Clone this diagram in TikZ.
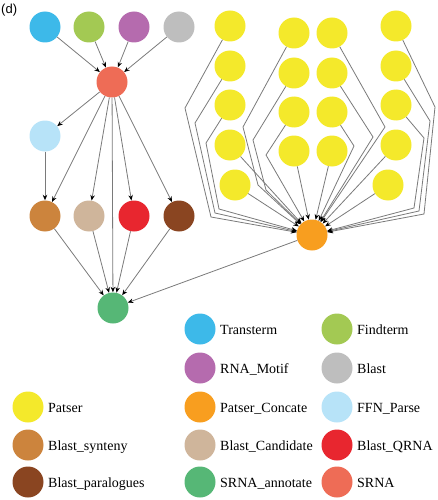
\documentclass[tikz,border=0pt]{standalone}
\usepackage{fontspec}
\setmainfont{Liberation Serif}
\newfontfamily\labfont{Liberation Sans}
\usetikzlibrary{arrows.meta}
\definecolor{cTransterm}{HTML}{3DB9E9}
\definecolor{cFindterm}{HTML}{A3C953}
\definecolor{cMotif}{HTML}{B56BAE}
\definecolor{cBlast}{HTML}{BEBEBE}
\definecolor{cSRNA}{HTML}{EE6C56}
\definecolor{cFFN}{HTML}{B7E3F8}
\definecolor{cSynteny}{HTML}{CC843D}
\definecolor{cCand}{HTML}{CFB59B}
\definecolor{cQRNA}{HTML}{E8262F}
\definecolor{cPara}{HTML}{8A4521}
\definecolor{cAnnot}{HTML}{56B776}
\definecolor{cPatser}{HTML}{F4E92B}
\definecolor{cConcat}{HTML}{F89E1F}
\definecolor{edgegray}{HTML}{7A7A7A}
\tikzset{
  dot/.style={circle, inner sep=0pt, minimum size=31pt, draw=none, fill=#1},
  edge/.style={draw=edgegray, line width=0.8pt, -{Stealth[length=5.5pt,width=4.5pt,black]}},
  legtext/.style={anchor=base west, inner sep=0pt, font=\fontsize{14}{16}\selectfont}
}
\begin{document}
\begin{tikzpicture}[x=1pt,y=-1pt]
\useasboundingbox (0,0) rectangle (438,500);
\node[anchor=west, inner sep=0pt, font=\labfont\fontsize{13}{15}\selectfont] (lab) at (1,10) {(d)};
% left graph
\node[dot=cTransterm] (tt) at (45,27) {};
\node[dot=cFindterm] (ft) at (89,27) {};
\node[dot=cMotif] (rm) at (134,27) {};
\node[dot=cBlast] (bl) at (179,27) {};
\node[dot=cSRNA] (sr) at (112,82) {};
\node[dot=cFFN] (ffn) at (45,136) {};
\node[dot=cSynteny] (syn) at (45,216) {};
\node[dot=cCand] (cand) at (89,216) {};
\node[dot=cQRNA] (qrna) at (134,216) {};
\node[dot=cPara] (para) at (179,216) {};
\node[dot=cAnnot] (ann) at (113,308) {};
% yellow nodes
\node[dot=cPatser] (a1) at (230,26) {};
\node[dot=cPatser] (a2) at (230,66) {};
\node[dot=cPatser] (a3) at (230,105) {};
\node[dot=cPatser] (a4) at (230,145) {};
\node[dot=cPatser] (a5) at (235,185) {};
\node[dot=cPatser] (b1) at (294,33) {};
\node[dot=cPatser] (b2) at (294,73) {};
\node[dot=cPatser] (b3) at (294,112) {};
\node[dot=cPatser] (b4) at (294,151) {};
\node[dot=cPatser] (c1) at (332,33) {};
\node[dot=cPatser] (c2) at (332,73) {};
\node[dot=cPatser] (c3) at (332,112) {};
\node[dot=cPatser] (c4) at (332,151) {};
\node[dot=cPatser] (d1) at (396,26) {};
\node[dot=cPatser] (d2) at (396,66) {};
\node[dot=cPatser] (d3) at (396,105) {};
\node[dot=cPatser] (d4) at (396,145) {};
\node[dot=cPatser] (d5) at (388,185) {};
\node[dot=cConcat] (pc) at (312,235) {};
% edges left
\foreach \s in {tt,ft,rm,bl} \draw[edge] (\s) -- (sr);
\draw[edge] (sr) -- (ffn);
\draw[edge] (ffn) -- (syn);
\foreach \t in {syn,cand,qrna,para} \draw[edge] (sr) -- (\t);
\draw[edge] (sr) -- (ann);
\foreach \s in {syn,cand,qrna,para} \draw[edge] (\s) -- (ann);
\draw[edge] (pc) -- (ann);
% yellow edges
\draw[edge] (a1) -- (185,108) -- (211,217) -- (pc);
\draw[edge] (a2) -- (195,123) -- (215,213) -- (pc);
\draw[edge] (a3) -- (206,143) -- (219,209) -- (pc);
\draw[edge] (a4) -- (pc);
\draw[edge] (a5) -- (pc);
\draw[edge] (b1) -- (243,127) -- (258,185) -- (pc);
\draw[edge] (b2) -- (253,140) -- (266,190) -- (pc);
\draw[edge] (b3) -- (266,155) -- (pc);
\draw[edge] (b4) -- (pc);
\draw[edge] (c1) -- (385,127) -- (pc);
\draw[edge] (c2) -- (373,137) -- (pc);
\draw[edge] (c3) -- (354,146) -- (pc);
\draw[edge] (c4) -- (pc);
\draw[edge] (d1) -- (435,107) -- (424,214) -- (pc);
\draw[edge] (d2) -- (430,121) -- (419,211) -- (pc);
\draw[edge] (d3) -- (424,138) -- (414,208) -- (pc);
\draw[edge] (d4) -- (pc);
\draw[edge] (d5) -- (pc);
% legend
\node[dot=cTransterm] (l1) at (200,329) {};
\node[legtext] (t1) at (220,334) {Transterm};
\node[dot=cFindterm] (l2) at (337,329) {};
\node[legtext] (t2) at (357,334) {Findterm};
\node[dot=cMotif] (l3) at (200,368) {};
\node[legtext] (t3) at (220,373) {RNA\_Motif};
\node[dot=cBlast] (l4) at (337,368) {};
\node[legtext] (t4) at (357,373) {Blast};
\node[dot=cPatser] (l5) at (28,407) {};
\node[legtext] (t5) at (48,412) {Patser};
\node[dot=cConcat] (l6) at (200,407) {};
\node[legtext] (t6) at (220,412) {Patser\_Concate};
\node[dot=cFFN] (l7) at (337,407) {};
\node[legtext] (t7) at (357,412) {FFN\_Parse};
\node[dot=cSynteny] (l8) at (28,445) {};
\node[legtext] (t8) at (48,450) {Blast\_synteny};
\node[dot=cCand] (l9) at (200,445) {};
\node[legtext] (t9) at (220,450) {Blast\_Candidate};
\node[dot=cQRNA] (l10) at (337,445) {};
\node[legtext] (t10) at (357,450) {Blast\_QRNA};
\node[dot=cPara] (l11) at (28,482) {};
\node[legtext] (t11) at (48,487) {Blast\_paralogues};
\node[dot=cAnnot] (l12) at (200,482) {};
\node[legtext] (t12) at (220,487) {SRNA\_annotate};
\node[dot=cSRNA] (l13) at (337,482) {};
\node[legtext] (t13) at (357,487) {SRNA};
\end{tikzpicture}
\end{document}
